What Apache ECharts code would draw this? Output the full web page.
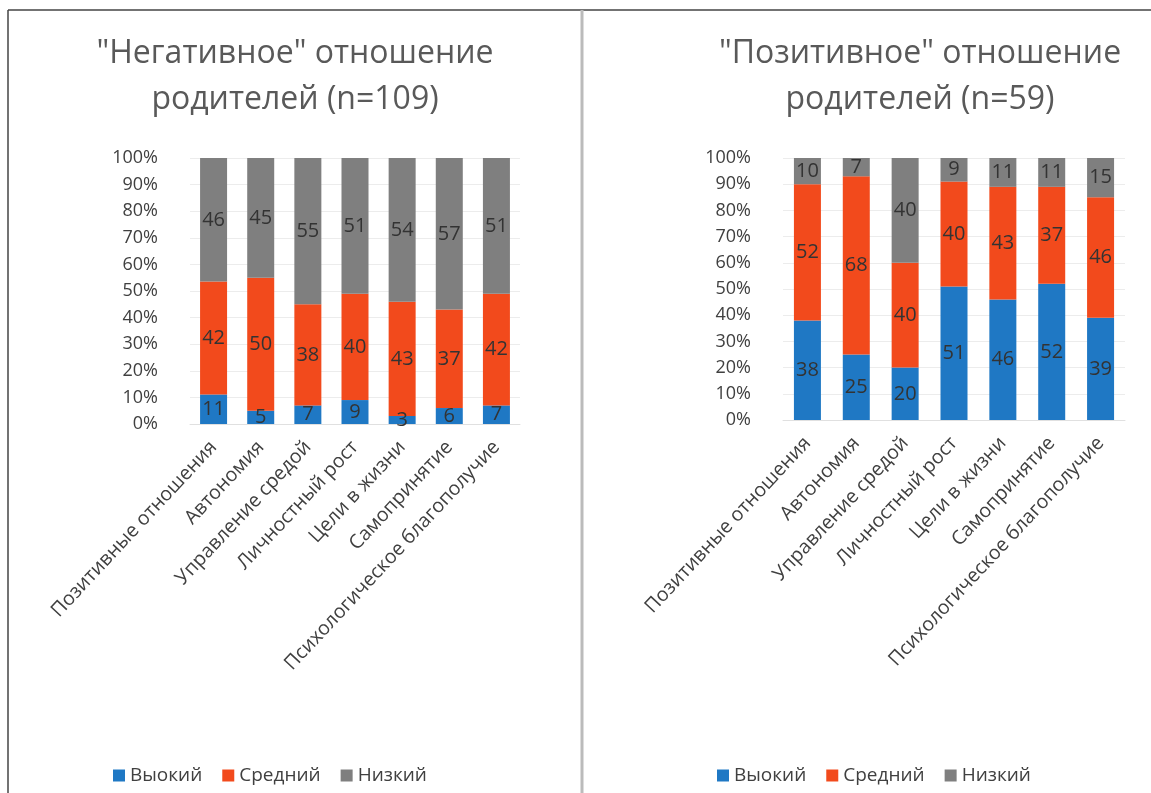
<!DOCTYPE html>
<html>
<head>
<meta charset="utf-8">
<script src="https://cdn.jsdelivr.net/npm/echarts@6/dist/echarts.min.js"></script>
<style>
    html, body { margin: 0; padding: 0; background: #fff; }
    #chart { width: 1151px; height: 793px; }
</style>
</head>
<body>
<div id="chart"></div>
<script>
    var categories = ["Позитивные отношения", "Автономия", "Управление средой", "Личностный рост",
        "Цели в жизни", "Самопринятие", "Психологическое благополучие"];
    var levels = ["Выокий", "Средний", "Низкий"];
    var yTicks = [0, 10, 20, 30, 40, 50, 60, 70, 80, 90, 100];

    // "Негативное" отношение (n=109)
    var negHigh = [11, 5, 7, 9, 3, 6, 7];
    var negMid = [42, 50, 38, 40, 43, 37, 42];
    var negLow = [46, 45, 55, 51, 54, 57, 51];

    // "Позитивное" отношение (n=59)
    var posHigh = [38, 25, 20, 51, 46, 52, 39];
    var posMid = [52, 68, 40, 40, 43, 37, 46];
    var posLow = [10, 7, 40, 9, 11, 11, 15];

    var colors = ['#1f78c4', '#f24a1c', '#7f7f7f'];
    var font = '"Open Sans", "Noto Sans", sans-serif';

    var chart = echarts.init(document.getElementById('chart'));

    // 100% stacked: bar height is share of the column total, label keeps the raw number
    function toPercent(parts, k) {
        return parts[k].map(function (v, i) {
            var total = parts[0][i] + parts[1][i] + parts[2][i];
            return { value: v / total * 100, raw: v };
        });
    }

    function makeSeries(parts, k, idx) {
        return {
            name: levels[k],
            type: 'bar',
            stack: 'p' + idx,
            xAxisIndex: idx,
            yAxisIndex: idx,
            data: toPercent(parts, k),
            barWidth: 27,
            itemStyle: { color: colors[k] },
            label: {
                show: true,
                position: 'inside',
                color: '#333',
                fontSize: 20,
                fontFamily: font,
                formatter: function (p) { return p.data.raw; }
            }
        };
    }

    function xAxis(idx) {
        return {
            type: 'category',
            gridIndex: idx,
            data: categories,
            axisLine: { show: true, lineStyle: { color: '#e0e0e0' } },
            axisTick: { show: false },
            axisLabel: {
                interval: 0,
                rotate: 47,
                color: '#404040',
                fontSize: 19.5,
                fontFamily: font,
                margin: 20
            }
        };
    }

    function yAxis(idx) {
        return {
            type: 'value',
            gridIndex: idx,
            min: 0,
            max: 100,
            interval: 10,
            axisLine: { show: false },
            axisTick: { show: false },
            splitLine: { lineStyle: { color: '#ececec' } },
            axisLabel: {
                color: '#404040',
                fontSize: 18,
                fontFamily: font,
                margin: 32,
                formatter: function (v) { return yTicks.indexOf(v) >= 0 ? v + '%' : ''; }
            }
        };
    }

    var titleStyle = { color: '#595959', fontSize: 32, fontWeight: 'normal', fontFamily: font, lineHeight: 46 };
    var legendText = { color: '#404040', fontSize: 19, fontFamily: font };

    var option = {
        animation: false,
        backgroundColor: '#fff',
        title: [
            { text: '"Негативное" отношение\nродителей (n=109)', left: 290, top: 26, textAlign: 'center', textStyle: titleStyle },
            { text: '"Позитивное" отношение\nродителей (n=59)', left: 915, top: 26, textAlign: 'center', textStyle: titleStyle }
        ],
        legend: [
            { data: levels, left: 108, top: 761, itemWidth: 12, itemHeight: 12, icon: 'rect', itemGap: 20, textStyle: legendText },
            { data: levels, left: 712, top: 761, itemWidth: 12, itemHeight: 12, icon: 'rect', itemGap: 20, textStyle: legendText }
        ],
        grid: [
            { left: 190, width: 330, top: 158, height: 266 },
            { left: 783, width: 342, top: 158, height: 262 }
        ],
        xAxis: [xAxis(0), xAxis(1)],
        yAxis: [yAxis(0), yAxis(1)],
        series: [
            makeSeries([negHigh, negMid, negLow], 0, 0),
            makeSeries([negHigh, negMid, negLow], 1, 0),
            makeSeries([negHigh, negMid, negLow], 2, 0),
            makeSeries([posHigh, posMid, posLow], 0, 1),
            makeSeries([posHigh, posMid, posLow], 1, 1),
            makeSeries([posHigh, posMid, posLow], 2, 1)
        ],
        graphic: [
            // panel frames
            { type: 'line', shape: { x1: 8, y1: 10, x2: 1151, y2: 10 }, style: { stroke: '#444', lineWidth: 1.5 } },
            { type: 'line', shape: { x1: 8, y1: 10, x2: 8, y2: 793 }, style: { stroke: '#444', lineWidth: 1.5 } },
            { type: 'line', shape: { x1: 582, y1: 10, x2: 582, y2: 793 }, style: { stroke: '#bbb', lineWidth: 3 } }
        ]
    };

    chart.setOption(option);
</script>
</body>
</html>
